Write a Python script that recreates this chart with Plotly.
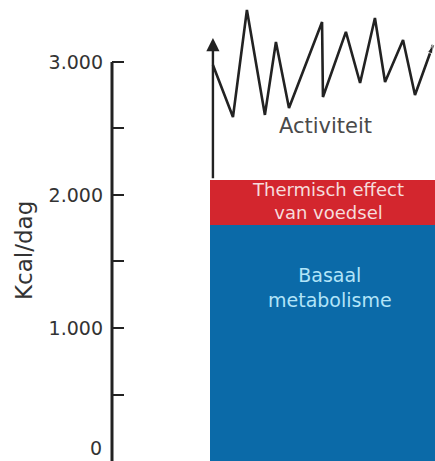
import plotly.graph_objects as go

# ---- data ----
categories = ["Energieverbruik"]
basaal = [1775]            # Basaal metabolisme (kcal/dag)
thermisch = [340]          # Thermisch effect van voedsel
activiteit_top = 3180      # top of the activity arrow
zigzag_pos = [-0.487, -0.398, -0.336, -0.256, -0.207, -0.149, -0.002, 0.002,
              0.104, 0.167, 0.233, 0.278, 0.358, 0.411, 0.491]
zigzag_val = [2977, 2586, 3391, 2602, 3150, 2654, 3301, 2737,
              3226, 2842, 3331, 2850, 3165, 2752, 3128]
tick_vals = [0, 500, 1000, 1500, 2000, 2500, 3000]
tick_text = ["", "", "1.000", "", "2.000", "", "3.000"]
zero_label = "0"
y_title = "Kcal/dag"
label_activiteit = "Activiteit"
label_thermisch = "Thermisch effect<br>van voedsel"
label_basal = "Basaal<br>metabolisme"

FONT = "DejaVu Sans"
BLUE = "#0b6aa8"
RED = "#d3262e"
INK = "#222222"

fig = go.Figure()
fig.add_trace(go.Bar(x=[0], y=basaal, width=1, marker=dict(color=BLUE, line=dict(width=0)),
                     hoverinfo="skip", showlegend=False, name=categories[0]))
fig.add_trace(go.Bar(x=[0], y=thermisch, width=1, marker=dict(color=RED, line=dict(width=0)),
                     hoverinfo="skip", showlegend=False))

sym = ["circle"] * (len(zigzag_val) - 1) + ["arrow"]
size = [0] * (len(zigzag_val) - 1) + [9]
fig.add_trace(go.Scatter(x=zigzag_pos, y=zigzag_val, mode="lines+markers",
                         line=dict(color=INK, width=2.6),
                         marker=dict(symbol=sym, size=size, color=INK, angleref="previous"),
                         hoverinfo="skip", showlegend=False, cliponaxis=False))

total = basaal[0] + thermisch[0]
fig.add_annotation(x=zigzag_pos[0], y=activiteit_top, ax=zigzag_pos[0], ay=total,
                   xref="x", yref="y", axref="x", ayref="y", text="",
                   showarrow=True, arrowhead=2, arrowsize=1.1, arrowwidth=2.4, arrowcolor=INK)

# in-bar labels
fig.add_annotation(x=0.013, y=2519, text=label_activiteit, showarrow=False,
                   font=dict(family=FONT, size=21, color="#4a4a4a"))
fig.add_annotation(x=0.025, y=basaal[0] + thermisch[0] / 2, yshift=1, text=label_thermisch,
                   showarrow=False, borderpad=0,
                   font=dict(family=FONT, size=18, color="#f6dcdc"))
fig.add_annotation(x=0.035, y=1308, text=label_basal, showarrow=False,
                   font=dict(family=FONT, size=19, color="#b2e4f8"))

# axis line (only spans 0..3000)
fig.add_shape(type="line", xref="paper", yref="y", x0=0, x1=0, y0=0, y1=tick_vals[-1],
              line=dict(color=INK, width=3))
fig.add_annotation(xref="paper", yref="y", x=0, y=0, text=zero_label, showarrow=False,
                   xanchor="right", yanchor="bottom", xshift=-8, yshift=0,
                   font=dict(family=FONT, size=19, color="#333333"))
# y-axis title
fig.add_annotation(xref="paper", yref="paper", x=0, y=1 - 251 / 461, xshift=-88,
                   text=y_title, textangle=-90, showarrow=False,
                   xanchor="center", yanchor="middle",
                   font=dict(family=FONT, size=23, color="#333333"))

fig.update_layout(
    width=435, height=461,
    margin=dict(l=112, r=0, t=0, b=0),
    paper_bgcolor="white", plot_bgcolor="white",
    barmode="stack", bargap=0,
    xaxis=dict(range=[-0.9356, 0.5], visible=False, fixedrange=True),
    yaxis=dict(range=[0, 3466], showgrid=False, zeroline=False, showline=False,
               ticks="inside", ticklen=12, tickwidth=2, tickcolor=INK,
               tickvals=tick_vals, ticktext=tick_text, ticklabelstandoff=8,
               tickfont=dict(family=FONT, size=19, color="#333333")),
    font=dict(family=FONT),
)

fig.write_html("out.html")
